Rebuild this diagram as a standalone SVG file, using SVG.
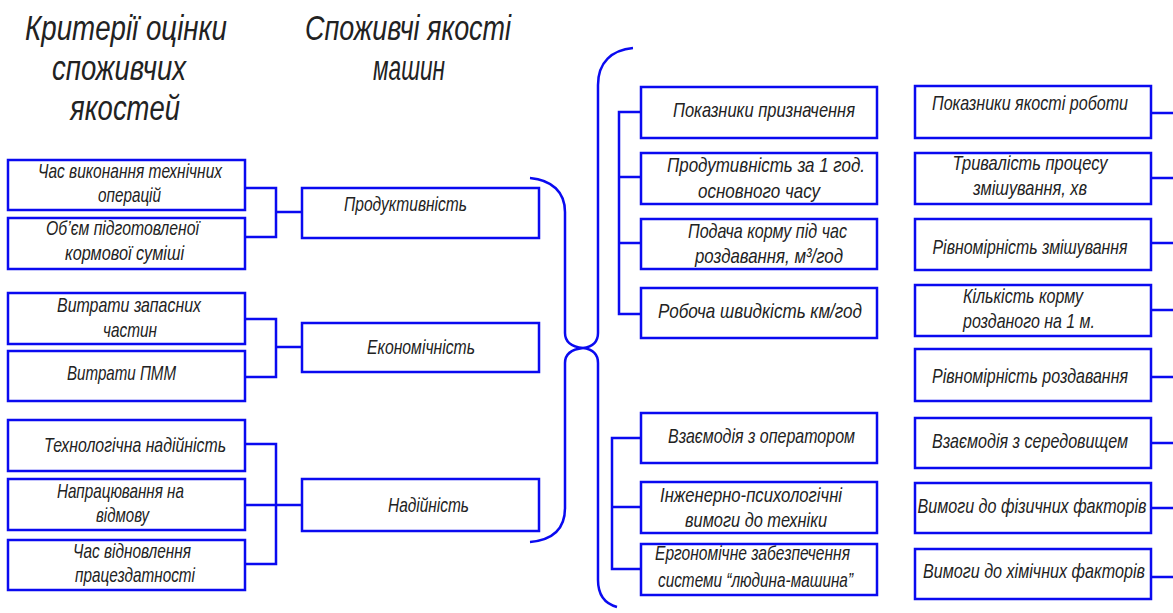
<svg xmlns="http://www.w3.org/2000/svg" width="1173" height="613" viewBox="0 0 1173 613">
<defs>
<style>
.box{fill:#fff;stroke:#0a0af0;stroke-width:2.5}
.ln{fill:none;stroke:#0a0af0;stroke-width:2.5}
.t{font-family:"Liberation Sans","DejaVu Sans",sans-serif;font-style:italic;font-size:21px;fill:#222}
.c{text-anchor:middle}
.h{font-family:"Liberation Sans","DejaVu Sans",sans-serif;font-style:italic;font-size:35px;fill:#222}
</style>
</defs>
<rect width="1173" height="613" fill="#fff"/>
<g id="titles">
<text class="h" x="25" y="40" textLength="202" lengthAdjust="spacingAndGlyphs">Критерії оцінки</text>
<text class="h" x="52" y="80" textLength="134" lengthAdjust="spacingAndGlyphs">споживчих</text>
<text class="h" x="70" y="120" textLength="110" lengthAdjust="spacingAndGlyphs">якостей</text>
<text class="h" x="305" y="40" textLength="206" lengthAdjust="spacingAndGlyphs">Споживчі якості</text>
<text class="h" x="373" y="80" textLength="72" lengthAdjust="spacingAndGlyphs">машин</text>
</g>
<g id="connectors">
<path class="ln" d="M245,188 H276 V237 H245 M276,212 H302"/>
<path class="ln" d="M245,319 H276 V377 H245 M276,347 H302"/>
<path class="ln" d="M245,444 H276 V564 H245 M245,505 H302"/>
<path class="ln" d="M641,112 H619 V314 H641 M619,177 H641 M619,243 H641"/>
<path class="ln" d="M641,438 H612 V569 H641 M612,507 H641"/>
<path class="ln" d="M1151,113 H1173 M1151,178 H1173 M1151,243 H1173 M1151,310 H1173 M1151,377 H1173 M1151,443 H1173 M1151,508 H1173 M1151,577 H1173"/>
<path id="brace-mid" class="ln" d="M530,178 C552,180 565,192 565,212 L565,333 Q565,346 583,348 Q565,350 565,363 L565,508 C565,530 552,540 530,542"/>
<path id="brace-right" class="ln" d="M633,48 C612,50 598,62 598,85 L598,333 Q598,346 583,348 Q598,350 598,363 L598,580 C598,596 606,604 617,607"/>
</g>
<g id="n1"><rect class="box" x="8" y="160" width="237" height="50"/>
<text class="t" x="38" y="178" textLength="184" lengthAdjust="spacingAndGlyphs">Час виконання технічних</text>
<text class="t" x="98" y="202" textLength="63" lengthAdjust="spacingAndGlyphs">операцій</text></g>
<g id="n2"><rect class="box" x="8" y="218" width="237" height="51"/>
<text class="t" x="46" y="235" textLength="153" lengthAdjust="spacingAndGlyphs">Об’єм підготовленої</text>
<text class="t" x="65" y="260" textLength="119" lengthAdjust="spacingAndGlyphs">кормової суміші</text></g>
<g id="n3"><rect class="box" x="8" y="293" width="237" height="51"/>
<text class="t" x="57" y="312" textLength="144" lengthAdjust="spacingAndGlyphs">Витрати запасних</text>
<text class="t" x="103" y="337" textLength="54" lengthAdjust="spacingAndGlyphs">частин</text></g>
<g id="n4"><rect class="box" x="8" y="351" width="237" height="50"/>
<text class="t" x="67" y="380" textLength="109" lengthAdjust="spacingAndGlyphs">Витрати ПММ</text></g>
<g id="n5"><rect class="box" x="8" y="420" width="237" height="51"/>
<text class="t" x="44" y="452" textLength="182" lengthAdjust="spacingAndGlyphs">Технологічна надійність</text></g>
<g id="n6"><rect class="box" x="8" y="479" width="237" height="51"/>
<text class="t" x="57" y="498" textLength="127" lengthAdjust="spacingAndGlyphs">Напрацювання на</text>
<text class="t" x="96" y="522" textLength="53" lengthAdjust="spacingAndGlyphs">відмову</text></g>
<g id="n7"><rect class="box" x="8" y="540" width="237" height="50"/>
<text class="t" x="73" y="558" textLength="118" lengthAdjust="spacingAndGlyphs">Час відновлення</text>
<text class="t" x="75" y="582" textLength="120" lengthAdjust="spacingAndGlyphs">працездатності</text></g>
<g id="m1"><rect class="box" x="302" y="188" width="237" height="50"/>
<text class="t" x="344" y="211" textLength="123" lengthAdjust="spacingAndGlyphs">Продуктивність</text></g>
<g id="m2"><rect class="box" x="302" y="323" width="237" height="49"/>
<text class="t" x="367" y="354" textLength="108" lengthAdjust="spacingAndGlyphs">Економічність</text></g>
<g id="m3"><rect class="box" x="302" y="479" width="237" height="52"/>
<text class="t" x="388" y="512" textLength="81" lengthAdjust="spacingAndGlyphs">Надійність</text></g>
<g id="r1"><rect class="box" x="641" y="87" width="236" height="51"/>
<text class="t" x="673" y="117" textLength="182" lengthAdjust="spacingAndGlyphs">Показники призначення</text></g>
<g id="r2"><rect class="box" x="641" y="153" width="236" height="51"/>
<text class="t" x="667" y="172" textLength="198" lengthAdjust="spacingAndGlyphs">Продутивність за 1 год.</text>
<text class="t" x="698" y="198" textLength="122" lengthAdjust="spacingAndGlyphs">основного часу</text></g>
<g id="r3"><rect class="box" x="641" y="219" width="236" height="50"/>
<text class="t" x="688" y="238" textLength="159" lengthAdjust="spacingAndGlyphs">Подача корму під час</text>
<text class="t" x="695" y="263" textLength="148" lengthAdjust="spacingAndGlyphs">роздавання, м³/год</text></g>
<g id="r4"><rect class="box" x="641" y="288" width="236" height="50"/>
<text class="t" x="658" y="318" textLength="204" lengthAdjust="spacingAndGlyphs">Робоча швидкість км/год</text></g>
<g id="r5"><rect class="box" x="641" y="413" width="236" height="50"/>
<text class="t" x="668" y="443" textLength="187" lengthAdjust="spacingAndGlyphs">Взаємодія з оператором</text></g>
<g id="r6"><rect class="box" x="641" y="482" width="236" height="51"/>
<text class="t" x="660" y="502" textLength="182" lengthAdjust="spacingAndGlyphs">Інженерно-психологічні</text>
<text class="t" x="685" y="527" textLength="142" lengthAdjust="spacingAndGlyphs">вимоги до техніки</text></g>
<g id="r7"><rect class="box" x="641" y="544" width="236" height="51"/>
<text class="t" x="655" y="560" textLength="195" lengthAdjust="spacingAndGlyphs">Ергономічне забезпечення</text>
<text class="t" x="658" y="587" textLength="195" lengthAdjust="spacingAndGlyphs">системи “людина-машина”</text></g>
<g id="s1"><rect class="box" x="915" y="86" width="236" height="52"/>
<text class="t c" x="1030" y="110" textLength="196" lengthAdjust="spacingAndGlyphs">Показники якості роботи</text></g>
<g id="s2"><rect class="box" x="915" y="153" width="236" height="51"/>
<text class="t c" x="1030" y="170" textLength="155" lengthAdjust="spacingAndGlyphs">Тривалість процесу</text>
<text class="t c" x="1030" y="195" textLength="114" lengthAdjust="spacingAndGlyphs">змішування, хв</text></g>
<g id="s3"><rect class="box" x="915" y="219" width="236" height="51"/>
<text class="t c" x="1030" y="254" textLength="195" lengthAdjust="spacingAndGlyphs">Рівномірність змішування</text></g>
<g id="s4"><rect class="box" x="915" y="285" width="236" height="51"/>
<text class="t c" x="1023" y="303" textLength="120" lengthAdjust="spacingAndGlyphs">Кількість корму</text>
<text class="t c" x="1029" y="328" textLength="132" lengthAdjust="spacingAndGlyphs">розданого на 1 м.</text></g>
<g id="s5"><rect class="box" x="915" y="349" width="236" height="52"/>
<text class="t c" x="1030" y="383" textLength="196" lengthAdjust="spacingAndGlyphs">Рівномірність роздавання</text></g>
<g id="s6"><rect class="box" x="915" y="418" width="236" height="50"/>
<text class="t c" x="1030" y="448" textLength="196" lengthAdjust="spacingAndGlyphs">Взаємодія з середовищем</text></g>
<g id="s7"><rect class="box" x="915" y="483" width="236" height="50"/>
<text class="t c" x="1032" y="513" textLength="229" lengthAdjust="spacingAndGlyphs">Вимоги до фізичних факторів</text></g>
<g id="s8"><rect class="box" x="915" y="549" width="236" height="50"/>
<text class="t c" x="1034" y="578" textLength="222" lengthAdjust="spacingAndGlyphs">Вимоги до хімічних факторів</text></g>
</svg>
